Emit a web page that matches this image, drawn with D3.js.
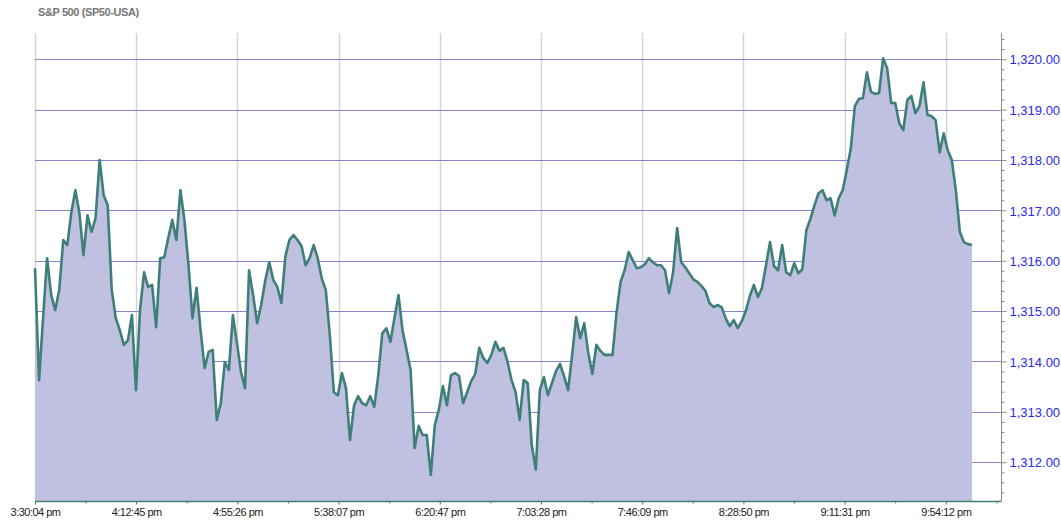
<!DOCTYPE html>
<html>
<head>
<meta charset="utf-8">
<script src="https://cdn.jsdelivr.net/npm/d3@7"></script>
<style>
body { margin: 0; background: #fff; }
svg { display: block; font-family: "Liberation Sans", Arial, sans-serif; }
</style>
</head>
<body>
<svg id="chart" width="1061" height="521"></svg>
<script>
const TITLE = 'S&P 500 (SP50-USA)';
const START_TIME = '3:30:04 pm';
const STEP_SECONDS = 102.2;     // spacing between samples
const SPAN_SECONDS = 24445;     // visible time span of the x axis
const X_TICK_LABELS = ['3:30:04 pm', '4:12:45 pm', '4:55:26 pm', '5:38:07 pm', '6:20:47 pm',
    '7:03:28 pm', '7:46:09 pm', '8:28:50 pm', '9:11:31 pm', '9:54:12 pm'];
const Y_TICKS = [1312, 1313, 1314, 1315, 1316, 1317, 1318, 1319, 1320];
const Y_DOMAIN = [1311.22, 1320.52];

const PRICES = [
    1315.85, 1313.63, 1314.86, 1316.05, 1315.32, 1315.02, 1315.42, 1316.41, 1316.31, 1316.96,
    1317.40, 1316.94, 1316.11, 1316.90, 1316.57, 1316.85, 1318.00, 1317.30, 1317.10, 1315.42,
    1314.86, 1314.62, 1314.33, 1314.42, 1314.92, 1313.43, 1315.02, 1315.77, 1315.48, 1315.52,
    1314.68, 1316.05, 1316.07, 1316.45, 1316.81, 1316.41, 1317.40, 1316.81, 1315.91, 1314.86,
    1315.46, 1314.62, 1313.87, 1314.19, 1314.23, 1312.84, 1313.17, 1313.99, 1313.83, 1314.92,
    1314.37, 1313.79, 1313.47, 1315.81, 1315.32, 1314.76, 1315.12, 1315.60, 1315.97, 1315.62,
    1315.48, 1315.16, 1316.09, 1316.41, 1316.51, 1316.41, 1316.29, 1315.91, 1316.05, 1316.31,
    1316.05, 1315.65, 1315.42, 1314.52, 1313.39, 1313.33, 1313.77, 1313.47, 1312.44, 1313.13,
    1313.31, 1313.17, 1313.13, 1313.31, 1313.10, 1313.73, 1314.56, 1314.66, 1314.39, 1314.86,
    1315.32, 1314.62, 1314.23, 1313.83, 1312.28, 1312.72, 1312.54, 1312.54, 1311.75, 1312.74,
    1313.04, 1313.51, 1313.13, 1313.73, 1313.77, 1313.71, 1313.17, 1313.39, 1313.61, 1313.75,
    1314.27, 1314.07, 1313.97, 1314.13, 1314.39, 1314.21, 1314.27, 1313.99, 1313.63, 1313.39,
    1312.84, 1313.63, 1313.57, 1312.34, 1311.85, 1313.43, 1313.69, 1313.33, 1313.57, 1313.81,
    1313.95, 1313.71, 1313.43, 1314.13, 1314.88, 1314.46, 1314.76, 1314.17, 1313.75, 1314.33,
    1314.21, 1314.13, 1314.13, 1314.13, 1314.98, 1315.58, 1315.81, 1316.17, 1316.01, 1315.85,
    1315.87, 1315.93, 1316.05, 1315.97, 1315.91, 1315.91, 1315.81, 1315.36, 1315.77, 1316.65,
    1315.97, 1315.87, 1315.75, 1315.63, 1315.58, 1315.50, 1315.40, 1315.16, 1315.08, 1315.12,
    1315.08, 1314.86, 1314.70, 1314.82, 1314.66, 1314.80, 1315.00, 1315.30, 1315.52, 1315.28,
    1315.46, 1315.91, 1316.37, 1315.89, 1315.81, 1316.31, 1315.77, 1315.71, 1315.95, 1315.75,
    1315.83, 1316.61, 1316.83, 1317.10, 1317.34, 1317.40, 1317.20, 1317.24, 1316.90, 1317.24,
    1317.40, 1317.80, 1318.23, 1319.07, 1319.21, 1319.23, 1319.74, 1319.35, 1319.31, 1319.33,
    1320.02, 1319.82, 1319.13, 1319.13, 1318.73, 1318.59, 1319.19, 1319.27, 1318.93, 1319.07,
    1319.54, 1318.89, 1318.87, 1318.79, 1318.15, 1318.53, 1318.19, 1318.00, 1317.40, 1316.57,
    1316.37, 1316.33, 1316.31
];

const margin = {top: 33, right: 60, bottom: 19.5, left: 35};
const svg = d3.select('#chart'),
    width = +svg.attr('width'),
    height = +svg.attr('height');
const plotRight = width - margin.right,
    plotBottom = height - margin.bottom;

const parseTime = d3.timeParse('%I:%M:%S %p');
const start = parseTime(START_TIME);
const tickTimes = X_TICK_LABELS.map(parseTime);
const data = PRICES.map(function (p, i) {
    return {t: new Date(start.getTime() + i * STEP_SECONDS * 1000), v: p};
});

const x = d3.scaleTime()
    .domain([start, new Date(start.getTime() + SPAN_SECONDS * 1000)])
    .range([margin.left, plotRight]);
const y = d3.scaleLinear()
    .domain(Y_DOMAIN)
    .range([plotBottom, margin.top]);

// grid
svg.append('g')
    .selectAll('line')
    .data(tickTimes)
    .enter().append('line')
    .attr('x1', d => Math.round(x(d)) + 0.5).attr('x2', d => Math.round(x(d)) + 0.5)
    .attr('y1', margin.top).attr('y2', plotBottom)
    .attr('stroke', '#d2d2d2').attr('stroke-width', 1.4);

svg.append('g')
    .selectAll('line')
    .data(Y_TICKS)
    .enter().append('line')
    .attr('x1', margin.left).attr('x2', plotRight)
    .attr('y1', d => Math.round(y(d)) + 0.5).attr('y2', d => Math.round(y(d)) + 0.5)
    .attr('stroke', '#8585cc').attr('stroke-width', 1);

// area + line
const area = d3.area()
    .x(d => x(d.t))
    .y0(plotBottom)
    .y1(d => y(d.v));
const line = d3.line()
    .x(d => x(d.t))
    .y(d => y(d.v));

svg.append('path')
    .datum(data)
    .attr('d', area)
    .attr('fill', '#c0c0e0');

svg.append('path')
    .datum(data)
    .attr('d', line)
    .attr('fill', 'none')
    .attr('stroke', '#3f7f7a')
    .attr('stroke-width', 2.6)
    .attr('stroke-linejoin', 'round');

// right axis
const yMinor = d3.range(1311.4, 1320.5, 0.2).filter(v => Math.abs(v - Math.round(v)) > 0.05);
svg.append('g')
    .attr('transform', 'translate(' + (plotRight + 0.5) + ',0)')
    .call(d3.axisRight(y).tickValues(yMinor).tickSize(3).tickFormat(''))
    .call(g => g.select('.domain').remove())
    .selectAll('line').attr('stroke', '#8a8a8a');

const yAxis = svg.append('g')
    .attr('transform', 'translate(' + (plotRight + 0.5) + ',0)')
    .call(d3.axisRight(y).tickValues(Y_TICKS).tickSize(5).tickPadding(3)
        .tickFormat(d3.format(',.2f')));
yAxis.select('.domain').attr('stroke', '#8a8a8a').attr('d', 'M0,' + margin.top + 'V' + plotBottom);
yAxis.selectAll('line').attr('stroke', '#8a8a8a');
yAxis.selectAll('text')
    .attr('fill', '#2a2af0')
    .style('font-size', '13px')
    .attr('dy', '0.36em');

// bottom axis
const xMinor = d3.pairs(tickTimes).map(p => new Date((p[0].getTime() + p[1].getTime()) / 2));
xMinor.push(new Date(2 * tickTimes[9].getTime() - xMinor[8].getTime()));
svg.append('g')
    .attr('transform', 'translate(0,' + plotBottom + ')')
    .call(d3.axisBottom(x).tickValues(xMinor).tickSize(2).tickFormat(''))
    .call(g => g.select('.domain').remove())
    .selectAll('line').attr('stroke', '#3f7f7a');

const xAxis = svg.append('g')
    .attr('transform', 'translate(0,' + plotBottom + ')')
    .call(d3.axisBottom(x).tickValues(tickTimes).tickSize(3).tickPadding(4)
        .tickFormat((d, i) => X_TICK_LABELS[i]));
xAxis.select('.domain').attr('stroke', '#3f7f7a').attr('stroke-width', 1.5)
    .attr('d', 'M' + margin.left + ',0H' + plotRight);
xAxis.selectAll('line').attr('stroke', '#3f7f7a');
xAxis.selectAll('text')
    .attr('fill', '#222')
    .style('font-size', '11px')
    .style('letter-spacing', '-0.5px');

// title
svg.append('text')
    .attr('x', 38)
    .attr('y', 16)
    .attr('fill', '#777')
    .style('font-size', '11px')
    .style('font-weight', 'bold')
    .style('letter-spacing', '-0.4px')
    .text(TITLE);
</script>
</body>
</html>
